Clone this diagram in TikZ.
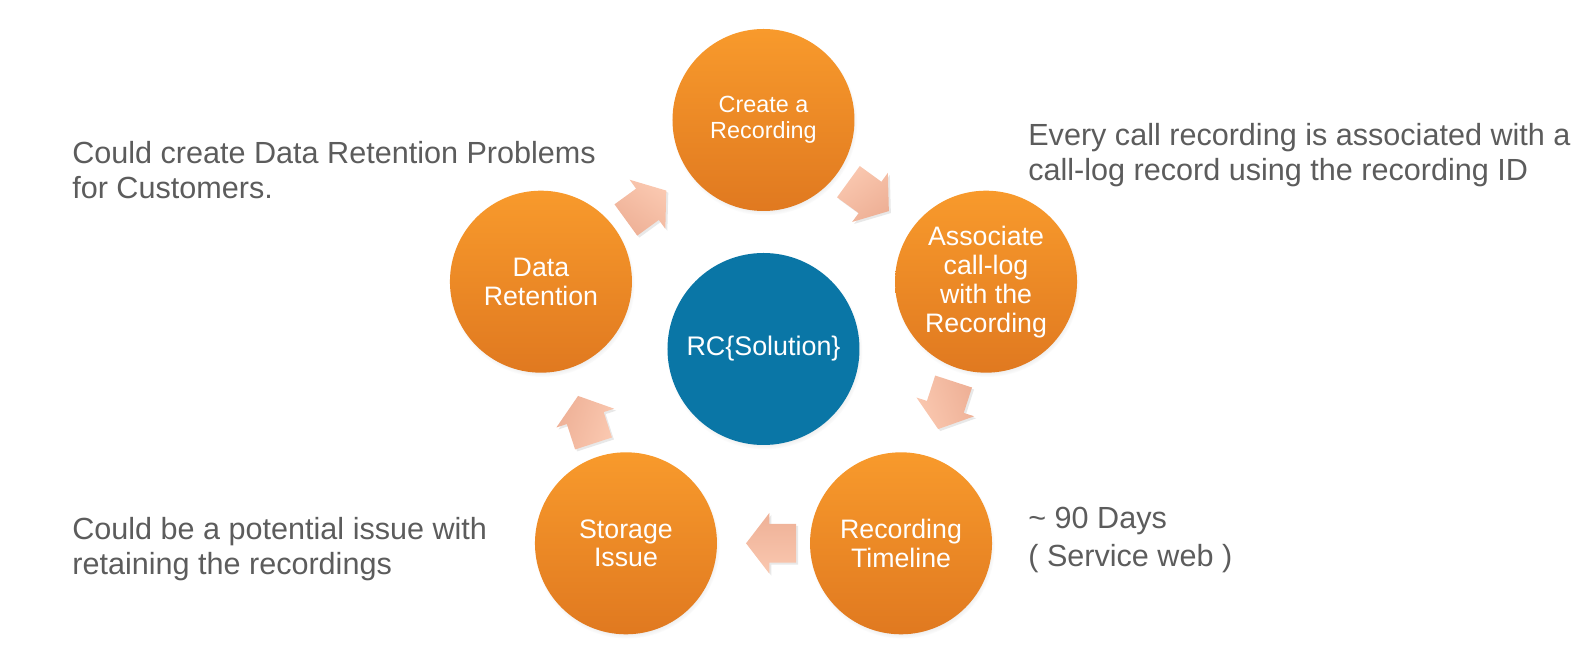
\documentclass[tikz,border=0pt]{standalone}
\usepackage{fontspec}
\setmainfont{Liberation Sans}
\usepackage{tikz}
\usetikzlibrary{shapes,arrows,shadows}
\definecolor{orangetop}{RGB}{248,154,44}
\definecolor{orangebot}{RGB}{224,121,32}
\definecolor{rcblue}{RGB}{10,118,166}
\definecolor{arrowtop}{RGB}{250,200,176}
\definecolor{arrowbot}{RGB}{238,176,150}
\definecolor{notegray}{RGB}{92,92,92}
\tikzstyle{stage} = [circle, minimum size=3.64cm, inner sep=0pt, top color=orangetop, bottom color=orangebot, text=white, align=center, font=\fontsize{15.2}{16.5}\selectfont, circular drop shadow={shadow xshift=0.02cm, shadow yshift=-0.05cm, shadow scale=1.02, opacity=0.35}]
\tikzstyle{hub} = [circle, minimum size=3.84cm, inner sep=0pt, fill=rcblue, text=white, font=\fontsize{15.3}{17}\selectfont, circular drop shadow={shadow xshift=0.02cm, shadow yshift=-0.05cm, shadow scale=1.02, opacity=0.35}]
\tikzset{flow/.style={single arrow, minimum height=1cm, inner xsep=0pt, inner ysep=0.38cm, single arrow head extend=0.22cm, single arrow tip angle=105, top color=arrowtop, bottom color=arrowbot, rotate=#1, xshift=-0.3cm, shading angle=-#1, drop shadow={opacity=0.18, shadow xshift=0.04cm, shadow yshift=-0.04cm}}}
\tikzstyle{note} = [text=notegray, align=left, anchor=north west, inner sep=0pt, font=\fontsize{17.4}{20}\selectfont]

\begin{document}
\begin{tikzpicture}
    \useasboundingbox (-15.27,-6.12) rectangle (16.41,7.08);
    % Place nodes
    \node [hub] (rc) at (0,0.1) {RC\{Solution\}};
    \node [stage, font=\fontsize{13.3}{14.7}\selectfont] (create) at (90:4.68) {Create a\\Recording};
    \node [stage] (assoc) at (18:4.68) {Associate\\call-log\\with the\\Recording};
    \node [stage] (timeline) at (-54:4.68) {Recording\\Timeline};
    \node [stage] (storage) at (-126:4.68) {Storage\\Issue};
    \node [stage] (retention) at (162:4.68) {Data\\Retention};
    % Notes
    \node [note] (retnote) at (-13.83,4.26) {Could create Data Retention Problems\\for Customers.};
    \node [note] (assocnote) at (5.29,4.62) {Every call recording is associated with a\\call-log record using the recording ID};
    \node [note, font=\fontsize{17.4}{21.5}\selectfont] (timenote) at (5.29,-3.06) {\textasciitilde{} 90 Days\\( Service web )};
    \node [note] (storenote) at (-13.83,-3.26) {Could be a potential issue with\\retaining the recordings};
    % Draw edges
    \path (create) -- (assoc) node[midway, flow=-36] {};
    \path (assoc) -- (timeline) node[midway, flow=-108] {};
    \path (timeline) -- (storage) node[midway, flow=180] {};
    \path (storage) -- (retention) node[midway, flow=108] {};
    \path (retention) -- (create) node[midway, flow=36] {};
\end{tikzpicture}
\end{document}
